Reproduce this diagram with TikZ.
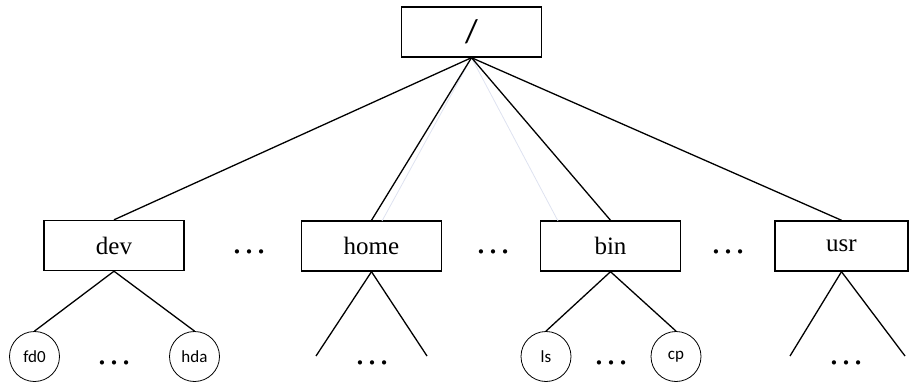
\documentclass[tikz,border=0pt]{standalone}
\usepackage{fontspec}
\setmainfont{Liberation Serif}
\newfontfamily\leaffont{Carlito}
\definecolor{ghostblue}{RGB}{222,226,240}
\tikzset{
    dirbox/.style={draw, line width=1.4pt, inner sep=0pt, minimum width=140pt, minimum height=50pt, font=\fontsize{25}{28}\selectfont},
    leaf/.style={draw, circle, line width=0.8pt, inner sep=0pt, minimum size=50pt, font=\leaffont\fontsize{17}{19}\selectfont},
    edge/.style={line width=1.3pt},
    ghost/.style={line width=0.8pt, ghostblue},
    more/.style={inner sep=0pt, font=\fontsize{36}{38}\selectfont}
}
\begin{document}
\begin{tikzpicture}[x=1pt,y=-1pt]
    \useasboundingbox (0,0) rectangle (910,385);
    \node [dirbox, font=\leaffont\fontsize{33}{36}\selectfont] (root) at (471.5,32) {/};
    \node [dirbox] (dev) at (114,245.5) {dev};
    \node [dirbox] (home) at (371.5,246) {home};
    \node [dirbox] (bin) at (610.5,246) {bin};
    \node [dirbox, minimum width=133pt] (usr) at (841.5,246) {usr};
    \node [more] (d1) at (249,252) {…};
    \node [more] (d2) at (493,252) {…};
    \node [more] (d3) at (728,252) {…};
    \coordinate (g1) at (382,221);
    \coordinate (g2) at (558,221);
    \draw [ghost] (root.south) -- (g1);
    \draw [ghost] (root.south) -- (g2);
    \draw [edge] (root.south) -- (dev.north);
    \draw [edge] (root.south) -- (home.north);
    \draw [edge] (root.south) -- (bin.north);
    \draw [edge] (root.south) -- (usr.north);
    \node [leaf] (fd0) at (34.5,356.5) {fd0};
    \node [leaf] (hda) at (194.5,356.5) {hda};
    \node [leaf] (ls) at (546,356.5) {ls};
    \node [leaf] (cp) at (676,356.5) {cp};
    \node [more] (d4) at (114,363) {…};
    \node [more] (d5) at (372,363) {…};
    \node [more] (d6) at (611,363) {…};
    \node [more] (d7) at (846,363) {…};
    \coordinate (h1) at (316,356);
    \coordinate (h2) at (427,356);
    \coordinate (u1) at (790,356);
    \coordinate (u2) at (905,356);
    \draw [edge] (dev.south) -- (fd0.north);
    \draw [edge] (dev.south) -- (hda.north);
    \draw [edge] (home.south) -- (h1);
    \draw [edge] (home.south) -- (h2);
    \draw [edge] (bin.south) -- (ls.north);
    \draw [edge] (bin.south) -- (cp.north);
    \draw [edge] (usr.south) -- (u1);
    \draw [edge] (usr.south) -- (u2);
\end{tikzpicture}
\end{document}
